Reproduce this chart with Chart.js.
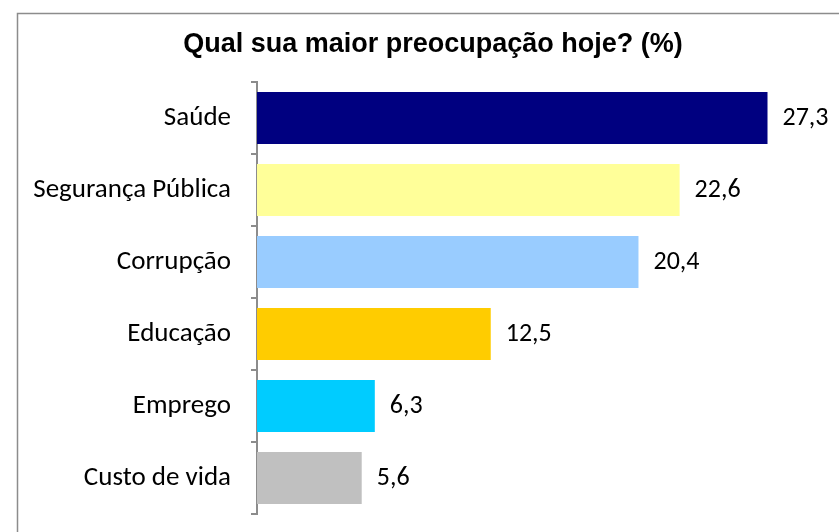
<!DOCTYPE html>
<html>
<head>
<meta charset="utf-8">
<script src="https://cdn.jsdelivr.net/npm/chart.js@4"></script>
<style>
  body { margin: 0; background: #fff; }
  #wrap { width: 839px; height: 532px; }
</style>
</head>
<body>
<div id="wrap"><canvas id="barChart" width="839" height="532"></canvas></div>
<script>
const categories = ['Saúde', 'Segurança Pública', 'Corrupção', 'Educação', 'Emprego', 'Custo de vida'];
const values = [27.3, 22.6, 20.4, 12.5, 6.3, 5.6];
const barColors = ['#000080', '#FFFF99', '#99CCFF', '#FFCC00', '#00CCFF', '#C0C0C0'];
const chartTitle = 'Qual sua maior preocupação hoje? (%)';

const labelFont = 'Carlito, Lato, "Liberation Sans", sans-serif';

// frame around the whole chart + title
const framePlugin = {
    id: 'frame',
    beforeDraw(chart) {
        const ctx = chart.ctx;
        ctx.save();
        ctx.strokeStyle = '#8c8c8c';
        ctx.lineWidth = 1.5;
        ctx.strokeRect(17.5, 13.5, 900, 600);
        ctx.font = 'bold 27px "Liberation Sans", Arial, sans-serif';
        ctx.fillStyle = '#000';
        ctx.textAlign = 'center';
        ctx.textBaseline = 'middle';
        ctx.fillText(chartTitle, 433, 45);
        ctx.restore();
    }
};

// value labels after the bars
const valueLabels = {
    id: 'valueLabels',
    afterDatasetsDraw(chart) {
        const ctx = chart.ctx;
        const meta = chart.getDatasetMeta(0);
        ctx.save();
        ctx.font = '26px ' + labelFont;
        ctx.fillStyle = '#000';
        ctx.textBaseline = 'middle';
        ctx.textAlign = 'left';
        meta.data.forEach((bar, i) => {
            ctx.fillText(values[i].toFixed(1).replace('.', ','), bar.x + 15, bar.y);
        });
        ctx.restore();
    }
};

const ctx = document.getElementById('barChart').getContext('2d');
const chart = new Chart(ctx, {
    type: 'bar',
    data: {
        labels: categories,
        datasets: [{
            data: values,
            backgroundColor: barColors,
            borderWidth: 0,
            barPercentage: 0.72,
            categoryPercentage: 1.0
        }]
    },
    options: {
        indexAxis: 'y',
        responsive: false,
        animation: false,
        layout: { padding: { top: 82, right: 21, bottom: 18, left: 0 } },
        plugins: {
            legend: { display: false },
            tooltip: { enabled: false },
            title: { display: false }
        },
        scales: {
            x: {
                display: false,
                min: 0,
                max: 30
            },
            y: {
                afterFit(scale) {
                    scale.width = 257;
                    scale.paddingTop = 0;
                    scale.paddingBottom = 0;
                },
                border: { display: true, color: '#8c8c8c', width: 2 },
                grid: {
                    display: true,
                    drawOnChartArea: false,
                    drawTicks: true,
                    tickLength: 6,
                    color: '#8c8c8c',
                    lineWidth: 2
                },
                ticks: {
                    color: '#000',
                    padding: 20,
                    font: { family: labelFont, size: 27 }
                }
            }
        }
    },
    plugins: [framePlugin, valueLabels]
});
</script>
</body>
</html>
